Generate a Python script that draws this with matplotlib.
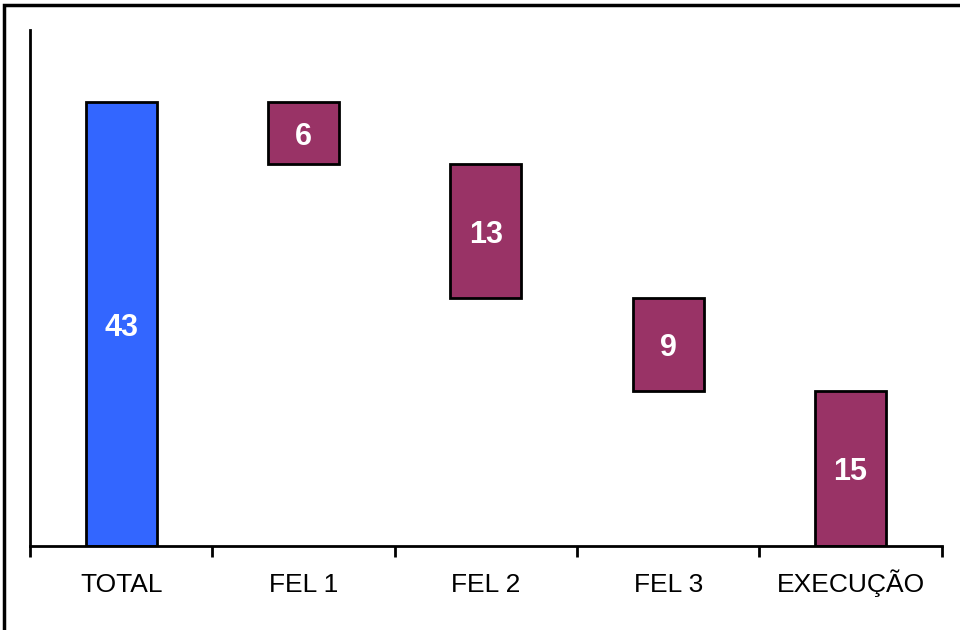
import matplotlib.pyplot as plt
from matplotlib.patches import Rectangle

# ------------------- DATA ------------------- #
categories = ["TOTAL", "FEL 1", "FEL 2", "FEL 3", "EXECUÇÃO"]
values = [43, 6, 13, 9, 15]
bar_colors = ["#3366FF", "#993366", "#993366", "#993366", "#993366"]

# waterfall bottoms: total starts at 0, each step hangs down from the previous one
bottoms = [0]
level = values[0]
for v in values[1:]:
    level -= v
    bottoms.append(level)

plt.rcParams['font.family'] = ['Liberation Sans', 'DejaVu Sans']

fig = plt.figure(figsize=(9.6, 6.3), dpi=100)
ax = fig.add_axes([0.03125, 0.1333, 0.9497, 0.8191])

x = list(range(len(categories)))
ax.bar(x, values, bottom=bottoms, width=0.39, color=bar_colors,
       edgecolor="black", linewidth=2)

for xi, v, b in zip(x, values, bottoms):
    ax.text(xi, b + v / 2, str(v), ha="center", va="center_baseline",
            color="white", fontsize=22, fontweight="bold")

ax.set_xlim(-0.5, len(categories) - 0.5)
ax.set_ylim(0, 50)

# ticks at the category boundaries, labels at the centres
ax.set_xticks([i - 0.5 for i in range(len(categories) + 1)])
ax.set_xticklabels([])
ax.set_xticks(x, minor=True)
ax.set_xticklabels(categories, minor=True, fontsize=19, va="baseline")
ax.tick_params(axis="x", which="major", length=8, width=2, direction="out")
ax.tick_params(axis="x", which="minor", length=0, pad=33)
ax.set_yticks([])

for side in ["top", "right"]:
    ax.spines[side].set_visible(False)
ax.spines["left"].set_linewidth(2)
ax.spines["bottom"].set_linewidth(2)

# outer frame (right and bottom edges fall outside the image)
fig.patches.append(Rectangle((4 / 960, -0.1), 1.1, 1 - 5 / 630 + 0.1,
                             transform=fig.transFigure, fill=False,
                             edgecolor="black", linewidth=2.5))

fig.savefig("out.png", dpi=100)
